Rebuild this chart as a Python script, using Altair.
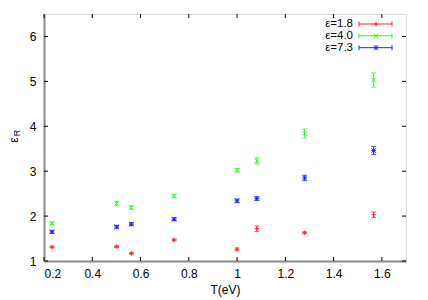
import altair as alt
import pandas as pd

T = [0.233, 0.501, 0.562, 0.739, 1.0, 1.082, 1.28, 1.566]
series = ["ε=1.8", "ε=4.0", "ε=7.3"]
eps18 = [1.31, 1.32, 1.17, 1.47, 1.26, 1.72, 1.63, 2.03]
eps40 = [1.84, 2.28, 2.19, 2.45, 3.02, 3.23, 3.84, 5.03]
eps73 = [1.65, 1.76, 1.82, 1.93, 2.34, 2.39, 2.85, 3.46]
err18 = [0.02, 0.02, 0.02, 0.02, 0.03, 0.06, 0.02, 0.06]
err40 = [0.03, 0.04, 0.04, 0.03, 0.04, 0.07, 0.10, 0.16]
err73 = [0.03, 0.03, 0.03, 0.03, 0.04, 0.04, 0.06, 0.09]
x_ticks = [0.2, 0.4, 0.6, 0.8, 1.0, 1.2, 1.4, 1.6]
y_ticks = [1, 2, 3, 4, 5, 6]

colors = ["#ff2020", "#20ff20", "#2020ff"]
shapes = ["M-1,0L1,0M0,-1L0,1",
          "M-1,-1L1,1M-1,1L1,-1",
          "M-1,0L1,0M0,-1L0,1M-1,-1L1,1M-1,1L1,-1"]

rows = []
for name, vals, errs in zip(series, [eps18, eps40, eps73], [err18, err40, err73]):
    for t, v, e in zip(T, vals, errs):
        rows.append({"T": t, "s": name, "v": v, "lo": v - e, "hi": v + e})
df = pd.DataFrame(rows)

xs = alt.Scale(domain=[0.2, 1.7], nice=False, zero=False)
ys = alt.Scale(domain=[1, 6.5], nice=False, zero=False)
col = alt.Color("s:N", scale=alt.Scale(domain=series, range=colors), legend=None)
font = "Liberation Sans"

base = alt.Chart(df)
x_enc = alt.X("T:Q", scale=xs,
              axis=alt.Axis(values=x_ticks, format="~g", tickSize=0, labelPadding=7,
                            title="T(eV)", titleFontWeight="normal", titleFontSize=12,
                            labelFontSize=12, labelFont=font, titleFont=font,
                            domainColor="#888", domainWidth=2, grid=False,
                            labelColor="#000", titleColor="#000", titlePadding=5))
y_enc = alt.Y("v:Q", scale=ys,
              axis=alt.Axis(values=y_ticks, tickSize=0, labelPadding=8, title=None,
                            labelFontSize=12, labelFont=font, domainColor="#888",
                            domainWidth=2, grid=False, labelColor="#000"))

bars = base.mark_rule(strokeWidth=1).encode(x=x_enc, y=alt.Y("lo:Q", scale=ys), y2="hi:Q", color=col)
cap_lo = base.mark_tick(orient="horizontal", size=5, thickness=1).encode(
    x="T:Q", y=alt.Y("lo:Q", scale=ys), color=col)
cap_hi = base.mark_tick(orient="horizontal", size=5, thickness=1).encode(
    x="T:Q", y=alt.Y("hi:Q", scale=ys), color=col)
pts = base.mark_point(filled=False, strokeWidth=1, size=20, opacity=1).encode(
    x="T:Q", y=y_enc, color=col,
    shape=alt.Shape("s:N", scale=alt.Scale(domain=series, range=shapes), legend=None))

# inward ticks
xt = pd.DataFrame({"x": x_ticks})
yt = pd.DataFrame({"y": y_ticks})
tb = alt.Chart(xt).mark_rule(color="#000", strokeWidth=1).encode(
    x=alt.X("x:Q", scale=xs), y=alt.value(247), y2=alt.value(243))
tt = alt.Chart(xt).mark_rule(color="#000", strokeWidth=1).encode(
    x=alt.X("x:Q", scale=xs), y=alt.value(0), y2=alt.value(4))
tl = alt.Chart(yt).mark_rule(color="#000", strokeWidth=1).encode(
    y=alt.Y("y:Q", scale=ys), x=alt.value(0), x2=alt.value(4))
tr = alt.Chart(yt).mark_rule(color="#000", strokeWidth=1).encode(
    y=alt.Y("y:Q", scale=ys), x=alt.value(362), x2=alt.value(358))

# y title epsilon_R
ytitle_e = alt.Chart(pd.DataFrame({"t": ["ε"]})).mark_text(
    angle=270, fontSize=12, font=font, color="#000", baseline="middle", align="center").encode(
    text="t:N", x=alt.value(-30), y=alt.value(126))
ytitle_r = alt.Chart(pd.DataFrame({"t": ["R"]})).mark_text(
    angle=270, fontSize=9, font=font, color="#000", baseline="middle", align="center").encode(
    text="t:N", x=alt.value(-27), y=alt.value(119))

# legend
leg_layers = []
row_y = [10, 21.8, 33.7]
for i, name in enumerate(series):
    d = pd.DataFrame({"t": [name]})
    c = colors[i]
    yy = row_y[i]
    leg_layers.append(alt.Chart(d).mark_text(align="right", baseline="middle", fontSize=11.5,
                                             font=font, color="#000").encode(
        text="t:N", x=alt.value(309), y=alt.value(yy)))
    leg_layers.append(alt.Chart(d).mark_rule(color=c, strokeWidth=1).encode(
        x=alt.value(315), x2=alt.value(348), y=alt.value(yy)))
    leg_layers.append(alt.Chart(d).mark_rule(color=c, strokeWidth=1).encode(
        x=alt.value(315), y=alt.value(yy - 2.5), y2=alt.value(yy + 2.5)))
    leg_layers.append(alt.Chart(d).mark_rule(color=c, strokeWidth=1).encode(
        x=alt.value(348), y=alt.value(yy - 2.5), y2=alt.value(yy + 2.5)))
    leg_layers.append(alt.Chart(d).mark_point(shape=shapes[i], size=20, filled=False,
                                              strokeWidth=1, color=c, opacity=1).encode(
        x=alt.value(332), y=alt.value(yy)))

chart = alt.layer(bars, cap_lo, cap_hi, pts, tb, tt, tl, tr, ytitle_e, ytitle_r, *leg_layers).properties(
    width=362, height=247,
    autosize=alt.AutoSizeParams(type="none"),
    padding={"left": 36, "top": 6, "right": 14, "bottom": 36},
).configure_view(stroke="#000", strokeWidth=1).configure(background="white")

chart.save("out.html", embed_options={"renderer": "svg", "actions": False})
